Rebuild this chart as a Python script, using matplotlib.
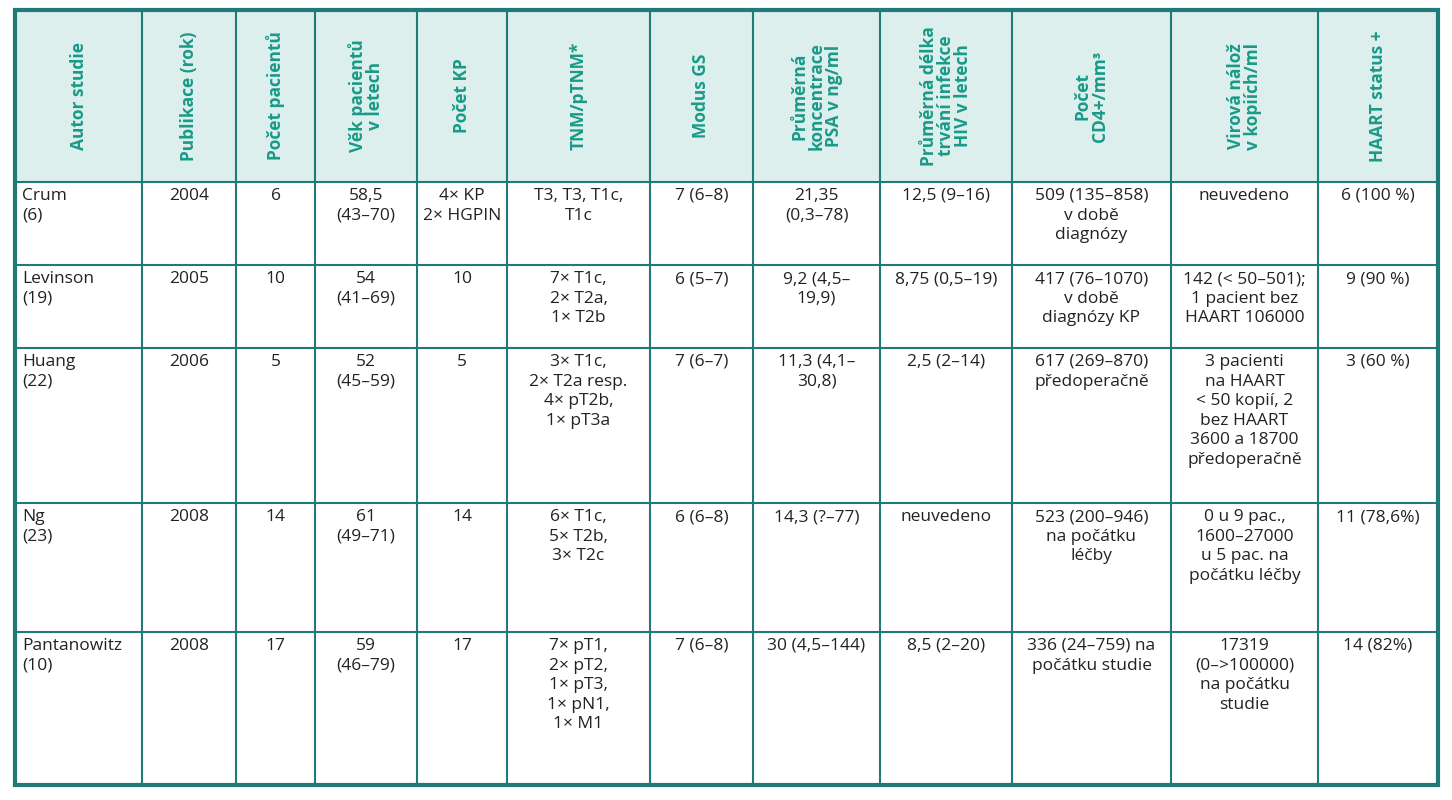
import matplotlib.pyplot as plt

plt.rcParams['font.family'] = ['Open Sans', 'DejaVu Sans']

headers = ['Autor studie', 'Publikace (rok)', 'Počet pacientů', 'Věk pacientů\nv letech',
           'Počet KP', 'TNM/pTNM*', 'Modus GS', 'Průměrná\nkoncentrace\nPSA v ng/ml',
           'Průměrná délka\ntrvání infekce\nHIV v letech', 'Počet\nCD4+/mm³',
           'Virová nálož\nv kopiích/ml', 'HAART status +']

rows = [
    ['Crum\n(6)', '2004', '6', '58,5\n(43–70)', '4× KP\n2× HGPIN', 'T3, T3, T1c,\nT1c', '7 (6–8)',
     '21,35\n(0,3–78)', '12,5 (9–16)', '509 (135–858)\nv době\ndiagnózy', 'neuvedeno', '6 (100 %)'],
    ['Levinson\n(19)', '2005', '10', '54\n(41–69)', '10', '7× T1c,\n2× T2a,\n1× T2b', '6 (5–7)',
     '9,2 (4,5–\n19,9)', '8,75 (0,5–19)', '417 (76–1070)\nv době\ndiagnózy KP',
     '142 (< 50–501);\n1 pacient bez\nHAART 106000', '9 (90 %)'],
    ['Huang\n(22)', '2006', '5', '52\n(45–59)', '5', '3× T1c,\n2× T2a resp.\n4× pT2b,\n1× pT3a', '7 (6–7)',
     '11,3 (4,1–\n30,8)', '2,5 (2–14)', '617 (269–870)\npředoperačně',
     '3 pacienti\nna HAART\n< 50 kopií, 2\nbez HAART\n3600 a 18700\npředoperačně', '3 (60 %)'],
    ['Ng\n(23)', '2008', '14', '61\n(49–71)', '14', '6× T1c,\n5× T2b,\n3× T2c', '6 (6–8)',
     '14,3 (?–77)', 'neuvedeno', '523 (200–946)\nna počátku\nléčby',
     '0 u 9 pac.,\n1600–27000\nu 5 pac. na\npočátku léčby', '11 (78,6%)'],
    ['Pantanowitz\n(10)', '2008', '17', '59\n(46–79)', '17', '7× pT1,\n2× pT2,\n1× pT3,\n1× pN1,\n1× M1',
     '7 (6–8)', '30 (4,5–144)', '8,5 (2–20)', '336 (24–759) na\npočátku studie',
     '17319\n(0–>100000)\nna počátku\nstudie', '14 (82%)'],
]

col_x = [15, 142, 236, 315, 417, 507, 650, 753, 880, 1012, 1171, 1318, 1438]
row_y = [10, 182, 265, 348, 503, 632, 785]

border = '#1f7a78'
head_bg = '#dcefed'
head_fg = '#1a9a88'

fig = plt.figure(figsize=(14.52, 8.0), dpi=100)
ax = fig.add_axes([0, 0, 1, 1])
ax.set_xlim(0, 1452)
ax.set_ylim(800, 0)
ax.axis('off')

ax.add_patch(plt.Rectangle((col_x[0], row_y[0]), col_x[-1] - col_x[0], row_y[1] - row_y[0],
                           facecolor=head_bg, edgecolor='none'))

for i, h in enumerate(headers):
    cx = (col_x[i] + col_x[i + 1]) / 2
    cy = (row_y[0] + row_y[1]) / 2
    ax.text(cx, cy, h, rotation=90, ha='center', va='center', multialignment='center',
            fontsize=12.5, fontweight='bold', color=head_fg, linespacing=0.95)

for r, row in enumerate(rows):
    top = row_y[r + 1] + 6
    for c, txt in enumerate(row):
        if c == 0:
            ax.text(col_x[c] + 7, top, txt, ha='left', va='top', fontsize=12.5,
                    color='#222222', linespacing=1.3)
        else:
            cx = (col_x[c] + col_x[c + 1]) / 2
            ax.text(cx, top, txt, ha='center', va='top', multialignment='center',
                    fontsize=12.5, color='#222222', linespacing=1.3)

for x in col_x[1:-1]:
    ax.plot([x, x], [row_y[0], row_y[-1]], color=border, lw=1.5)
for y in row_y[1:-1]:
    ax.plot([col_x[0], col_x[-1]], [y, y], color=border, lw=1.5)
ax.add_patch(plt.Rectangle((col_x[0], row_y[0]), col_x[-1] - col_x[0], row_y[-1] - row_y[0],
                           facecolor='none', edgecolor=border, lw=3))

fig.savefig('out.png', dpi=100)
